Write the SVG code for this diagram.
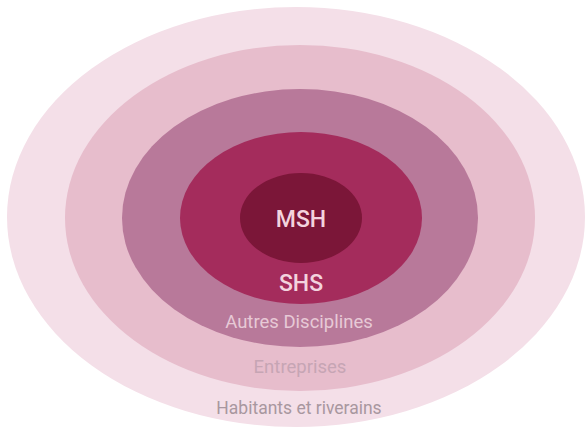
<svg xmlns="http://www.w3.org/2000/svg" width="587" height="429" viewBox="0 0 587 429">
<style>
text{font-family:Roboto,"Liberation Sans",sans-serif;text-anchor:middle}
.big{font-size:23px;font-weight:500;fill:#f3d3de}
.mid{font-size:18.5px}
</style>
<rect width="587" height="429" fill="#ffffff"/>
<g id="habitants">
<ellipse cx="296" cy="217" rx="289" ry="210" fill="#f4dfe8"/>
<text class="mid" x="299" y="414" fill="#a8979f" style="font-size:17.5px">Habitants et riverains</text>
</g>
<g id="entreprises">
<ellipse cx="300" cy="218" rx="235" ry="173" fill="#e7bdcc"/>
<text class="mid" x="300" y="373" fill="#c6a5b4">Entreprises</text>
</g>
<g id="autres">
<ellipse cx="300" cy="218" rx="178" ry="129" fill="#b8799a"/>
<text class="mid" x="299" y="328" fill="#e7c9d6">Autres Disciplines</text>
</g>
<g id="shs">
<ellipse cx="301" cy="218" rx="121" ry="86" fill="#a42c5c"/>
<text class="big" x="301" y="291">SHS</text>
</g>
<g id="msh">
<ellipse cx="301" cy="218" rx="61" ry="45" fill="#7b1638"/>
<text class="big" x="301" y="227">MSH</text>
</g>
<g id="connectors"/>
</svg>
